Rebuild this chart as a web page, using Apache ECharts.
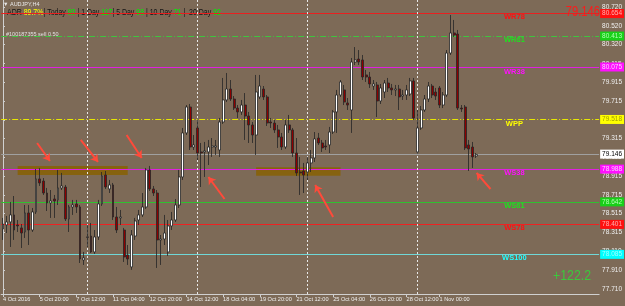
<!DOCTYPE html>
<html><head><meta charset="utf-8">
<script src="https://cdn.jsdelivr.net/npm/echarts@6/dist/echarts.min.js"></script>
<style>html,body{margin:0;padding:0;background:#7d6a57;}#c{width:625px;height:306px;}</style>
</head><body><div id="c"></div>
<script>
// ---- data (AUDJPY H4) ----
const tradingDays = ['4 Oct','5 Oct','6 Oct','7 Oct','10 Oct','11 Oct','12 Oct','13 Oct','14 Oct','17 Oct','18 Oct','19 Oct','20 Oct','21 Oct','24 Oct','25 Oct','26 Oct','27 Oct','28 Oct','31 Oct','1 Nov','2 Nov'];
const barHours = ['00:00','04:00','08:00','12:00','16:00','20:00'];
const firstBar = '4 Oct 04:00';
const totalSlots = 163;

const open = [78.351,78.394,78.426,78.501,78.394,78.362,78.319,78.522,78.340,78.533,
78.885,78.863,78.735,78.629,78.671,78.661,78.789,78.799,78.458,78.586,
78.618,78.586,78.020,78.266,78.276,78.106,78.266,78.618,78.927,78.778,
78.821,78.479,78.469,78.340,78.074,77.946,78.276,78.447,78.501,78.586,
78.981,78.778,78.735,78.234,78.244,78.106,78.383,78.447,78.607,78.906,
79.376,79.653,79.226,79.429,79.173,79.173,79.173,79.226,79.226,79.194,
79.493,79.728,79.845,79.738,79.642,79.600,79.674,79.557,79.461,79.354,
79.760,79.845,79.760,79.493,79.482,79.408,79.333,79.226,79.461,79.408,
79.162,78.959,78.970,78.959,79.056,79.109,79.322,79.269,79.237,79.248,
79.386,79.600,79.781,79.835,79.696,79.621,80.133,80.165,80.155,79.995,
79.973,79.877,79.888,79.717,79.813,79.909,79.856,79.835,79.845,79.770,
79.781,79.792,79.931,79.173,79.429,79.621,79.738,79.877,79.813,79.856,
79.674,79.781,80.229,80.443,80.432,79.642,79.653,79.248,79.226,79.130];
const close = [78.404,78.426,78.501,78.340,78.383,78.308,78.522,78.340,78.533,78.885,
78.842,78.735,78.629,78.650,78.650,78.789,78.810,78.458,78.586,78.607,
78.586,78.031,78.042,78.262,78.106,78.266,78.618,78.917,78.799,78.821,
78.479,78.340,78.479,78.052,78.031,78.287,78.436,78.501,78.586,78.981,
78.778,78.735,78.234,78.244,78.308,78.383,78.447,78.607,78.906,79.376,
79.653,79.226,79.248,79.162,79.162,79.184,79.226,79.237,79.237,79.493,
79.728,79.845,79.738,79.642,79.600,79.674,79.557,79.461,79.354,79.813,
79.877,79.760,79.482,79.482,79.408,79.333,79.226,79.461,79.408,79.162,
78.949,78.949,78.927,79.056,79.109,79.312,79.269,79.216,79.226,79.386,
79.600,79.781,79.920,79.706,79.674,80.133,80.155,80.133,79.973,79.973,
79.899,79.899,79.717,79.856,79.909,79.856,79.835,79.845,79.760,79.781,
79.835,79.931,79.536,79.429,79.621,79.738,79.877,79.781,79.770,79.674,
79.781,80.229,80.443,80.421,79.642,79.632,79.216,79.205,79.120,79.146];
const low = [78.234,78.308,78.159,78.234,78.319,78.148,78.255,78.180,78.319,78.511,
78.810,78.714,78.543,78.469,78.469,78.607,78.767,78.436,78.319,78.501,
78.522,77.988,77.967,78.159,78.095,78.084,78.234,78.597,78.778,78.735,
78.447,78.308,78.394,77.999,77.967,77.914,78.234,78.394,78.479,78.565,
78.757,78.703,77.935,77.967,78.180,78.063,78.340,78.426,78.575,78.874,
79.354,79.194,79.194,79.087,78.799,78.906,79.034,79.120,79.141,79.120,
79.472,79.706,79.717,79.621,79.536,79.568,79.301,79.269,79.269,79.141,
79.738,79.728,79.450,79.429,79.376,79.216,79.194,79.205,79.376,79.120,
78.917,78.714,78.735,78.874,78.959,79.066,79.248,79.173,79.194,79.162,
79.365,79.376,79.760,79.674,79.621,79.376,80.101,80.101,79.941,79.920,
79.856,79.835,79.546,79.685,79.749,79.813,79.781,79.770,79.621,79.728,
79.728,79.770,79.514,79.152,79.408,79.600,79.706,79.749,79.728,79.642,
79.642,79.760,80.208,80.400,79.621,79.600,79.194,78.970,79.002,79.109];
const high = [78.469,78.490,78.639,78.703,78.447,78.404,78.607,78.607,78.575,78.992,
79.002,78.895,78.789,78.767,78.714,78.981,78.949,78.821,78.607,78.661,
78.661,78.607,78.106,78.394,78.415,78.340,78.661,78.959,78.970,78.874,
78.842,78.586,78.554,78.362,78.180,78.340,78.469,78.554,78.735,79.002,
79.024,78.810,78.767,78.287,78.501,78.447,78.533,78.671,78.981,79.429,
79.674,79.685,79.354,79.514,79.269,79.280,79.301,79.322,79.301,79.536,
79.963,80.016,79.941,79.770,79.674,79.728,79.802,79.600,79.493,79.995,
79.995,79.877,79.781,79.536,79.514,79.461,79.376,79.514,79.568,79.429,
79.322,79.120,79.056,79.120,79.194,79.386,79.376,79.301,79.301,79.440,
79.621,79.835,79.941,79.888,79.749,80.176,80.293,80.261,80.208,80.048,
80.027,79.941,79.920,79.899,79.941,79.963,79.899,79.888,79.888,79.835,
79.888,79.963,79.963,79.621,79.664,79.781,79.920,79.899,79.856,79.877,
79.813,80.261,80.635,80.582,80.475,79.674,79.674,79.301,79.280,79.162];

// x tick labels
const xTickTimes = ['4 Oct 04:00','5 Oct 20:00','7 Oct 12:00','11 Oct 04:00','12 Oct 20:00','14 Oct 12:00','18 Oct 04:00','19 Oct 20:00','21 Oct 12:00','25 Oct 04:00','26 Oct 20:00','28 Oct 12:00','1 Nov 00:00'];
const xTickLabels = ['4 Oct 2016','5 Oct 20:00','7 Oct 12:00','11 Oct 04:00','12 Oct 20:00','14 Oct 12:00','18 Oct 04:00','19 Oct 20:00','21 Oct 12:00','25 Oct 04:00','26 Oct 20:00','28 Oct 12:00','1 Nov 00:00'];
const weekSeparators = ['10 Oct 00:00','17 Oct 00:00','24 Oct 00:00','31 Oct 00:00'];
// y tick labels
const yTicks = [80.720,80.520,80.320,80.115,79.915,79.715,79.515,79.315,79.115,78.915,78.715,78.515,78.315,78.110,77.910,77.710];
const yMin = 77.657, yMax = 80.795;

// weekly pivot levels
const levelNames  = ['WR78','WR61','WR38','WPP','WS38','WS61','WS78','WS100'];
const levelValues = [80.654,80.413,80.075,79.518,78.988,78.642,78.401,78.085];
const levelColors = ['#e82020','#3fc43f','#e020e0','#e8e800','#e020e0','#30c030','#ee2222','#70d8d8'];
const levelTextColors = ['#ff1010','#20e020','#ff10ff','#ffff00','#ff10ff','#20e020','#ff1010','#20ffff'];
const levelBoxColors = ['#ff1010','#18d018','#ff10ff','#ffff00','#ff10ff','#18d018','#ff1010','#00ffff'];
const levelBoxTextColors = ['#ffb0b0','#b0ffb0','#ffd0ff','#a0a000','#ffd0ff','#b0ffb0','#ffb0b0','#a0ffff'];
const levelDashed = [false,true,false,true,false,false,false,false];
const bidPrice = 79.146;

// support/resistance zones
const zoneFrom = ['4 Oct 20:00','19 Oct 16:00'];
const zoneTo   = ['11 Oct 20:00','25 Oct 12:00'];
const zoneTop = [79.024,79.010];
const zoneBottom = [78.927,78.920];

// arrows (bar position, price): tail -> head
const arrowTailX = [9.3,21.2,33.7,60.4,90.0,132.9];
const arrowTailY = [79.269,79.301,79.354,78.671,78.479,78.778];
const arrowHeadX = [12.8,25.9,37.8,56.0,85.1,129.1];
const arrowHeadY = [79.077,79.066,79.109,78.906,78.821,78.949];
const levelLabelPos = 139.4;

// ---- build ----
const categories = [];
let started = false;
for (const d of tradingDays) for (const h of barHours) {
  const t = d + ' ' + h;
  if (t === firstBar) started = true;
  if (started && categories.length < open.length) categories.push(t);
}
let pad = 0;
while (categories.length < totalSlots) categories.push('pad' + (pad++));
const candles = open.map((o, i) => [o, close[i], low[i], high[i]]);
const tickIdx = new Set(xTickTimes.map(t => categories.indexOf(t)));

const markLines = levelValues.map((v, i) => ({
  yAxis: v,
  lineStyle: {color: levelColors[i], width: 1, type: levelDashed[i] ? [6, 2, 1, 2] : 'solid'},
  label: {show: true, position: 'end', distance: 1, formatter: v.toFixed(3), backgroundColor: levelBoxColors[i],
          color: levelBoxTextColors[i], fontSize: 6.5, fontFamily: 'Liberation Sans', padding: [1, 2, 1, 2],
          textBorderWidth: 0}
}));
markLines.push({yAxis: bidPrice, lineStyle: {color: '#a0a0a0', width: 1, type: 'solid'},
  label: {show: true, position: 'end', distance: 1, formatter: bidPrice.toFixed(3), backgroundColor: '#ffffff',
          color: '#000', fontSize: 6.5, fontFamily: 'Liberation Sans', padding: [1, 2, 1, 2], textBorderWidth: 0}});
weekSeparators.forEach(s => markLines.push({xAxis: s, lineStyle: {color: '#e8e8e8', width: 1, type: [2, 2]}, label: {show: false}}));

const option = {
  backgroundColor: '#7d6a57',
  animation: false,
  grid: {left: 0, right: 25, top: 0, bottom: 12, containLabel: false},
  xAxis: [{
    type: 'category', data: categories, boundaryGap: true,
    axisLine: {show: true, lineStyle: {color: '#d0d0d0', width: 1}},
    axisTick: {show: true, alignWithLabel: true, length: 3, interval: (i) => tickIdx.has(i), lineStyle: {color: '#d0d0d0'}},
    axisLabel: {show: true, interval: (i) => tickIdx.has(i), hideOverlap: false, align: 'left', margin: 2, fontSize: 5.6,
      fontFamily: 'Liberation Sans', color: '#eeeeee',
      formatter: (v, i) => { const k = xTickTimes.indexOf(v); return k >= 0 ? xTickLabels[k] : ''; }},
    splitLine: {show: false}
  }, {
    type: 'value', min: -0.5, max: totalSlots - 0.5, show: false
  }],
  yAxis: {
    type: 'value', position: 'right', min: yMin, max: yMax, scale: true,
    axisLine: {show: true, lineStyle: {color: '#d0d0d0', width: 1}},
    axisTick: {show: true, length: 2, customValues: yTicks, lineStyle: {color: '#d0d0d0'}},
    axisLabel: {show: true, customValues: yTicks, margin: 3, fontSize: 6.5, fontFamily: 'Liberation Sans', color: '#f0f0f0',
      formatter: (v) => v.toFixed(3)},
    splitLine: {show: false}
  },
  series: [{
    type: 'candlestick', data: candles, barWidth: 2.4, z: 3,
    itemStyle: {color: '#ffffff', color0: '#8e0000', borderColor: '#262626', borderColor0: '#262626', borderWidth: 0.8},
    markArea: {silent: true, z: 1, itemStyle: {color: 'rgba(135,98,8,0.9)'},
      data: zoneFrom.map((f, i) => [{xAxis: f, yAxis: zoneTop[i]}, {xAxis: zoneTo[i], yAxis: zoneBottom[i]}])},
    markLine: {silent: true, symbol: 'none', z: 2, data: markLines}
  }, {
    type: 'lines', coordinateSystem: 'cartesian2d', xAxisIndex: 1, yAxisIndex: 0, z: 5,
    symbol: ['none', 'arrow'], symbolSize: 7,
    lineStyle: {color: '#ff4a3a', width: 2, opacity: 1, curveness: 0},
    data: arrowTailX.map((x, i) => ({coords: [[x, arrowTailY[i]], [arrowHeadX[i], arrowHeadY[i]]]}))
  }, {
    type: 'scatter', xAxisIndex: 1, yAxisIndex: 0, symbolSize: 0, z: 4, silent: true,
    itemStyle: {opacity: 1},
    data: levelValues.map((v, i) => ({value: [levelLabelPos, v], name: levelNames[i],
      label: {show: true, position: 'bottom', distance: 0, formatter: levelNames[i], color: levelTextColors[i],
              textBorderWidth: 0, opacity: 1, fontWeight: 'bold',
              fontSize: 7.5, fontFamily: 'Liberation Sans'}}))
  }],
  graphic: [
    {type: 'text', left: 3, top: 1, style: {text: '▼ AUDJPY,H4', fill: '#e8e8e8', font: '5.5px "Liberation Sans"'}},
    {type: 'text', x: 7, y: 13, scaleX: 0.82, style: {
      text: '{k|ADR }{y|89.7%}{k|| Today }{g|80}{k| | 1 Day }{g|117}{k|| 5 Day }{g|98}{k| | 10 Day }{g|71}{k| |  20 Day }{g|92}',
      verticalAlign: 'middle',
      rich: {k: {fill: '#141414', font: '8.5px "Liberation Sans"'}, y: {fill: '#ffff00', font: '8.5px "Liberation Sans"'},
             g: {fill: '#00ee00', font: '8.5px "Liberation Sans"'}}}},
    {type: 'text', x: 6, y: 34, style: {text: '#100187355 sell 0.50', fill: '#e0e0e0', font: '5.5px "Liberation Sans"', verticalAlign: 'middle'}},
    {type: 'text', x: 600, y: 12, scaleX: 0.8, style: {text: '79.146', fill: '#ff1a1a', font: '14px "Liberation Sans"', align: 'right', verticalAlign: 'middle'}},
    {type: 'text', x: 553, y: 276, scaleX: 0.88, style: {text: '+122.2', fill: '#3cc83c', font: '14px "Liberation Sans"', align: 'left', verticalAlign: 'middle'}}
  ]
};
const chart = echarts.init(document.getElementById('c'));
chart.setOption(option);
</script>
</body></html>
